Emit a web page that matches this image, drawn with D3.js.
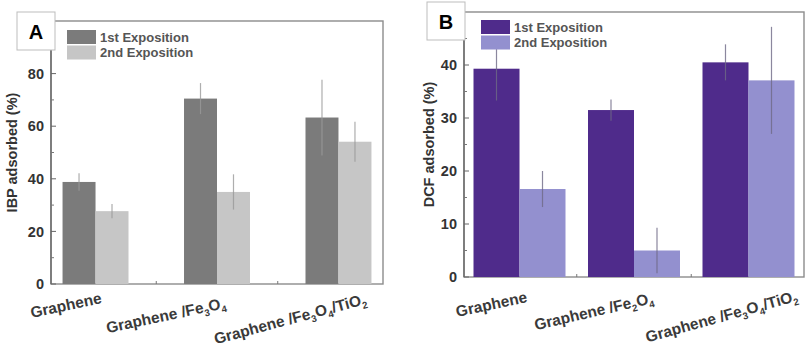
<!DOCTYPE html>
<html>
<head>
<meta charset="utf-8">
<script src="https://cdn.jsdelivr.net/npm/d3@7"></script>
<style>
  body { margin: 0; background: #fff; }
  svg { display: block; font-family: "Liberation Sans", Arial, sans-serif; }
</style>
</head>
<body>
<svg id="chart" width="809" height="351"></svg>
<script>
// data
const seriesNames = ["1st Exposition", "2nd Exposition"];
const labelsA = ["Graphene", "Graphene /Fe_3O_4", "Graphene /Fe_3O_4/TiO_2"];
const labelsB = ["Graphene", "Graphene /Fe_2O_4", "Graphene /Fe_3O_4/TiO_2"];

const ibpFirst = [38.8, 70.5, 63.3];
const ibpFirstErr = [3.3, 5.9, 14.4];
const ibpSecond = [27.7, 35.0, 54.1];
const ibpSecondErr = [2.7, 6.7, 7.6];

const dcfFirst = [39.3, 31.5, 40.5];
const dcfFirstErr = [6.0, 2.0, 3.4];
const dcfSecond = [16.6, 5.0, 37.1];
const dcfSecondErr = [3.4, 4.3, 10.1];

const ticksA = [0, 20, 40, 60, 80];
const ticksB = [0, 10, 20, 30, 40];

const svg = d3.select("#chart");

// writes "Fe_3O_4" style strings with real subscripts
function richText(sel, str) {
    const parts = str.split(/_(\d)/);
    let sub = false;
    parts.forEach((p, i) => {
        if (p === "") return;
        const isSub = i % 2 === 1;
        const t = sel.append("tspan").text(p);
        if (isSub) {
            t.attr("font-size", "0.62em").attr("dy", sub ? 0 : 4);
            sub = true;
        } else if (sub) {
            t.attr("dy", -4);
            sub = false;
        }
    });
}

function drawPanel(p) {
    const g = svg.append("g");

    const y = d3.scaleLinear().domain([0, p.yMax]).range([p.bottom, p.top]);
    const x0 = d3.scaleBand().domain(p.labels).range([p.left, p.right])
        .paddingInner(p.padInner).paddingOuter(p.padOuter);
    const x1 = d3.scaleBand().domain(seriesNames).range([0, x0.bandwidth()]);

    const rows = p.labels.map((c, i) => ({
        cat: c,
        vals: [
            { s: seriesNames[0], v: p.first[i], e: p.firstErr[i] },
            { s: seriesNames[1], v: p.second[i], e: p.secondErr[i] }
        ]
    }));

    // frame
    g.append("rect")
        .attr("x", p.left).attr("y", p.top)
        .attr("width", p.right - p.left).attr("height", p.bottom - p.top)
        .attr("fill", "none").attr("stroke", "#8c8c8c").attr("stroke-width", 1.4);

    // bars
    const grp = g.selectAll(".grp").data(rows).enter().append("g")
        .attr("transform", d => `translate(${x0(d.cat)},0)`);

    grp.selectAll("rect").data(d => d.vals).enter().append("rect")
        .attr("x", d => x1(d.s))
        .attr("y", d => y(d.v))
        .attr("width", x1.bandwidth())
        .attr("height", d => y(0) - y(d.v))
        .attr("fill", (d, i) => p.colors[i]);

    // error bars (no caps)
    grp.selectAll("line").data(d => d.vals).enter().append("line")
        .attr("x1", d => x1(d.s) + x1.bandwidth() / 2)
        .attr("x2", d => x1(d.s) + x1.bandwidth() / 2)
        .attr("y1", d => y(Math.max(0, d.v - d.e)))
        .attr("y2", d => y(d.v + d.e))
        .attr("stroke", p.errColor).attr("stroke-width", 1.2)
        .attr("opacity", 0.8);

    // left axis line + inward ticks
    const axis = g.append("g").attr("transform", `translate(${p.left},0)`);
    axis.append("line")
        .attr("y1", p.top).attr("y2", p.bottom)
        .attr("stroke", "#6e6e6e").attr("stroke-width", 1.5);
    const step = p.ticks[1] - p.ticks[0];
    const minor = d3.range(step / 2, p.yMax, step);
    axis.selectAll(".minor").data(minor).enter().append("line")
        .attr("x1", 0).attr("x2", 3)
        .attr("y1", d => y(d)).attr("y2", d => y(d))
        .attr("stroke", "#777");
    axis.selectAll(".major").data(p.ticks).enter().append("line")
        .attr("x1", 0).attr("x2", 5)
        .attr("y1", d => y(d)).attr("y2", d => y(d))
        .attr("stroke", "#666");
    axis.selectAll("text").data(p.ticks).enter().append("text")
        .attr("x", -7).attr("y", d => y(d)).attr("dy", "0.36em")
        .attr("text-anchor", "end")
        .attr("font-size", 14.5).attr("font-weight", "bold").attr("fill", "#333")
        .text(d => d);

    // small marks on the x axis between groups
    g.selectAll(".xmark").data(p.labels.slice(1)).enter().append("line")
        .attr("x1", d => x0(d) - x0.step() * p.padInner / 2)
        .attr("x2", d => x0(d) - x0.step() * p.padInner / 2)
        .attr("y1", p.bottom).attr("y2", p.bottom - 3)
        .attr("stroke", "#777");

    // y title
    g.append("text")
        .attr("transform", `translate(${p.titleX},${(p.top + p.bottom) / 2}) rotate(-90)`)
        .attr("text-anchor", "middle")
        .attr("font-size", 14.5).attr("font-weight", "bold").attr("fill", "#333")
        .text(p.yTitle);

    // category labels, slanted, centred on the middle of each label
    p.labels.forEach((c, i) => {
        const pl = p.place[i];
        const cx = x0(c) + x0.bandwidth() / 2 + pl[0];
        const t = g.append("text")
            .attr("transform", `translate(${cx},${pl[1]}) rotate(${pl[2]})`)
            .attr("text-anchor", "middle")
            .attr("font-size", 15.5).attr("font-weight", "bold").attr("fill", "#3a3a3a");
        richText(t, c);
    });

    // legend
    const lg = g.append("g").attr("transform", `translate(${p.legX},${p.legY})`);
    seriesNames.forEach((s, i) => {
        lg.append("rect")
            .attr("x", 0).attr("y", i * 15.5)
            .attr("width", 29).attr("height", 14)
            .attr("fill", p.colors[i]);
        lg.append("text")
            .attr("x", 33).attr("y", i * 15.5 + 11.5)
            .attr("font-size", 13).attr("font-weight", "bold").attr("fill", "#555")
            .text(s);
    });

    // panel letter box
    g.append("rect")
        .attr("x", p.boxX).attr("y", p.boxY).attr("width", 38).attr("height", 38)
        .attr("fill", "#fff").attr("stroke", "#bdbdbd").attr("stroke-width", 1);
    g.append("text")
        .attr("x", p.boxX + 19).attr("y", p.boxY + 27)
        .attr("text-anchor", "middle")
        .attr("font-size", 20).attr("font-weight", "bold").attr("fill", "#000")
        .text(p.letter);
}

drawPanel({
    letter: "A",
    labels: labelsA,
    first: ibpFirst, firstErr: ibpFirstErr,
    second: ibpSecond, secondErr: ibpSecondErr,
    ticks: ticksA, yMax: 100,
    yTitle: "IBP adsorbed (%)",
    colors: ["#7b7b7b", "#c6c6c6"], errColor: "#9a9a9a",
    left: 51, right: 383, top: 21, bottom: 284,
    padInner: 0.457, padOuter: 0.095,
    titleX: 17,
    legX: 67, legY: 30,
    boxX: 17, boxY: 12,
    place: [[-28.5, 310.5, -12], [-50, 320.5, -12], [-47, 324, -15]]
});

drawPanel({
    letter: "B",
    labels: labelsB,
    first: dcfFirst, firstErr: dcfFirstErr,
    second: dcfSecond, secondErr: dcfSecondErr,
    ticks: ticksB, yMax: 50,
    yTitle: "DCF adsorbed (%)",
    colors: ["#4f2b8b", "#9390cf"], errColor: "#6f6a86",
    left: 464, right: 804, top: 12, bottom: 277,
    padInner: 0.1965, padOuter: 0.083,
    titleX: 434,
    legX: 481, legY: 20,
    boxX: 427, boxY: 2,
    place: [[-27, 309.5, -12], [-39, 316.5, -13], [-25.5, 321.5, -15.5]]
});
</script>
</body>
</html>
